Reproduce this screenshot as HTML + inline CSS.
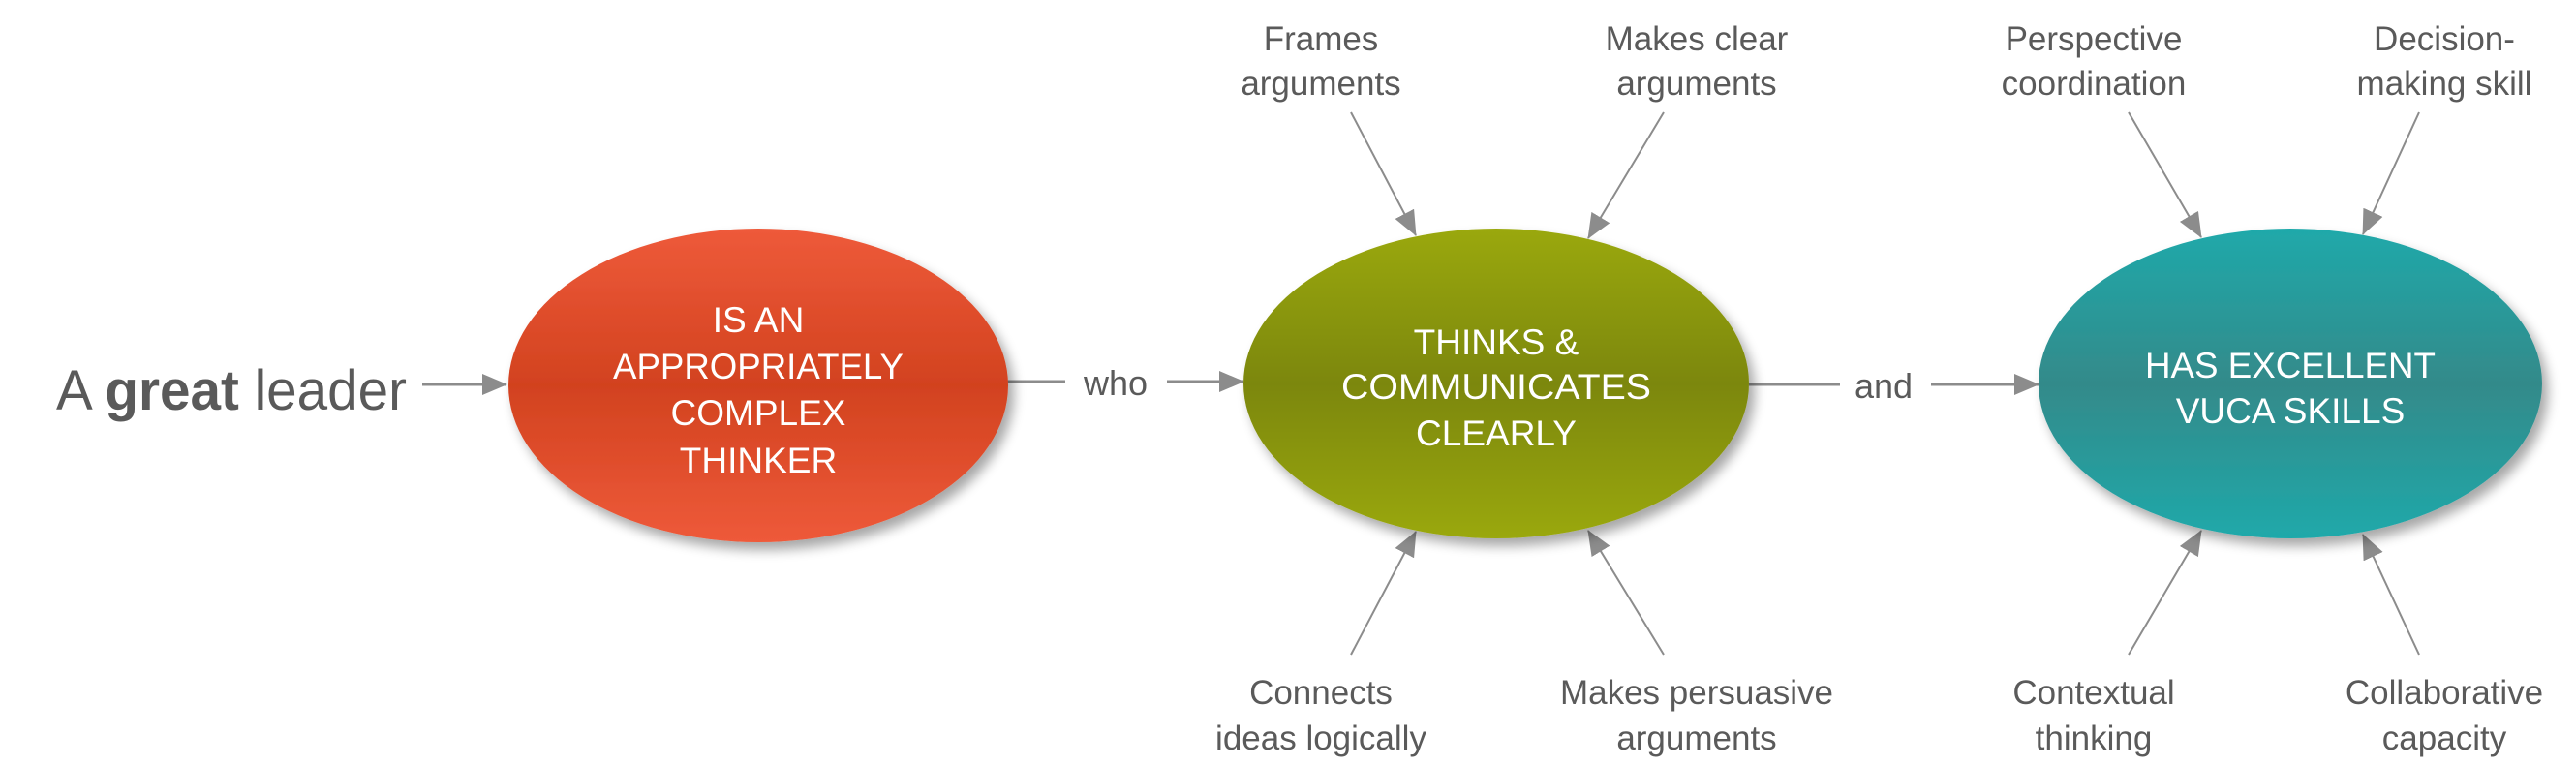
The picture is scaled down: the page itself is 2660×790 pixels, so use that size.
<!DOCTYPE html>
<html><head><meta charset="utf-8"><style>
html,body{margin:0;padding:0;background:#fff;}
svg{display:block;}
text{font-family:"Liberation Sans",sans-serif;}
.lb{fill:#5a5a5a;font-size:35px;text-anchor:middle;}
.in{fill:#fff;font-size:37px;text-anchor:middle;}
</style></head><body>
<svg width="2660" height="790" viewBox="0 0 2660 790" xmlns="http://www.w3.org/2000/svg">
<defs>
<linearGradient id="gr" x1="0" y1="0" x2="0" y2="1">
<stop offset="0" stop-color="#ee5a3a"/><stop offset="0.5" stop-color="#d2421f"/><stop offset="1" stop-color="#ee5a3a"/></linearGradient>
<linearGradient id="gg" x1="0" y1="0" x2="0" y2="1">
<stop offset="0" stop-color="#9aa80a"/><stop offset="0.5" stop-color="#7c870a"/><stop offset="1" stop-color="#9aa80a"/></linearGradient>
<linearGradient id="gt" x1="0" y1="0" x2="0" y2="1">
<stop offset="0" stop-color="#1fa9aa"/><stop offset="0.5" stop-color="#338a8a"/><stop offset="1" stop-color="#1fa9aa"/></linearGradient>
<filter id="sh" x="-20%" y="-20%" width="140%" height="140%">
<feGaussianBlur in="SourceAlpha" stdDeviation="6"/><feOffset dx="6" dy="8"/>
<feComponentTransfer><feFuncA type="linear" slope="0.35"/></feComponentTransfer>
<feMerge><feMergeNode/><feMergeNode in="SourceGraphic"/></feMerge></filter>
<marker id="ar" markerWidth="10" markerHeight="10" refX="9" refY="5" orient="auto" markerUnits="userSpaceOnUse" viewBox="0 0 10 10">
<path d="M0,0 L10,5 L0,10z" fill="#8c8c8c"/></marker>
<marker id="ab" markerWidth="26" markerHeight="22" refX="25" refY="11" orient="auto" markerUnits="userSpaceOnUse">
<path d="M0,0 L26,11 L0,22z" fill="#8c8c8c"/></marker>
</defs>

<text x="58" y="423" font-size="58" fill="#5a5a5a" textLength="362" lengthAdjust="spacingAndGlyphs">A <tspan font-weight="bold">great</tspan> leader</text>

<g stroke="#8c8c8c" stroke-width="3" fill="none">
<line x1="436" y1="397" x2="523" y2="397" marker-end="url(#ab)"/>
<line x1="1040" y1="394" x2="1100" y2="394"/>
<line x1="1205" y1="394" x2="1284" y2="394" marker-end="url(#ab)"/>
<line x1="1806" y1="397" x2="1900" y2="397"/>
<line x1="1994" y1="397" x2="2105" y2="397" marker-end="url(#ab)"/>
</g>
<text x="1152" y="408" font-size="36" fill="#5a5a5a" text-anchor="middle">who</text>
<text x="1945" y="411" font-size="36" fill="#5a5a5a" text-anchor="middle">and</text>

<g stroke="#8c8c8c" stroke-width="2" fill="none">
<line x1="1395" y1="116" x2="1462" y2="243" marker-end="url(#ab)"/>
<line x1="1718" y1="116" x2="1640" y2="246" marker-end="url(#ab)"/>
<line x1="2198" y1="116" x2="2273" y2="245" marker-end="url(#ab)"/>
<line x1="2498" y1="116" x2="2440" y2="242" marker-end="url(#ab)"/>
<line x1="1395" y1="676" x2="1462" y2="549" marker-end="url(#ab)"/>
<line x1="1718" y1="676" x2="1640" y2="548" marker-end="url(#ab)"/>
<line x1="2198" y1="676" x2="2273" y2="548" marker-end="url(#ab)"/>
<line x1="2498" y1="676" x2="2440" y2="552" marker-end="url(#ab)"/>
</g>

<ellipse cx="783" cy="398" rx="258" ry="162" fill="url(#gr)" filter="url(#sh)"/>
<ellipse cx="1545" cy="396" rx="261" ry="160" fill="url(#gg)" filter="url(#sh)"/>
<ellipse cx="2365" cy="396" rx="260" ry="160" fill="url(#gt)" filter="url(#sh)"/>

<g class="in">
<text x="783" y="343">IS AN</text>
<text x="783" y="391" textLength="300" lengthAdjust="spacingAndGlyphs">APPROPRIATELY</text>
<text x="783" y="439">COMPLEX</text>
<text x="783" y="488">THINKER</text>
<text x="1545" y="366">THINKS &amp;</text>
<text x="1545" y="412" textLength="320" lengthAdjust="spacingAndGlyphs">COMMUNICATES</text>
<text x="1545" y="460">CLEARLY</text>
<text x="2365" y="390" textLength="300" lengthAdjust="spacingAndGlyphs">HAS EXCELLENT</text>
<text x="2365" y="437">VUCA SKILLS</text>
</g>

<g class="lb">
<text x="1364" y="52">Frames</text><text x="1364" y="98">arguments</text>
<text x="1752" y="52">Makes clear</text><text x="1752" y="98">arguments</text>
<text x="2162" y="52">Perspective</text><text x="2162" y="98">coordination</text>
<text x="2524" y="52">Decision-</text><text x="2524" y="98">making skill</text>
<text x="1364" y="727">Connects</text><text x="1364" y="774">ideas logically</text>
<text x="1752" y="727">Makes persuasive</text><text x="1752" y="774">arguments</text>
<text x="2162" y="727">Contextual</text><text x="2162" y="774">thinking</text>
<text x="2524" y="727">Collaborative</text><text x="2524" y="774">capacity</text>
</g>
</svg>
</body></html>
